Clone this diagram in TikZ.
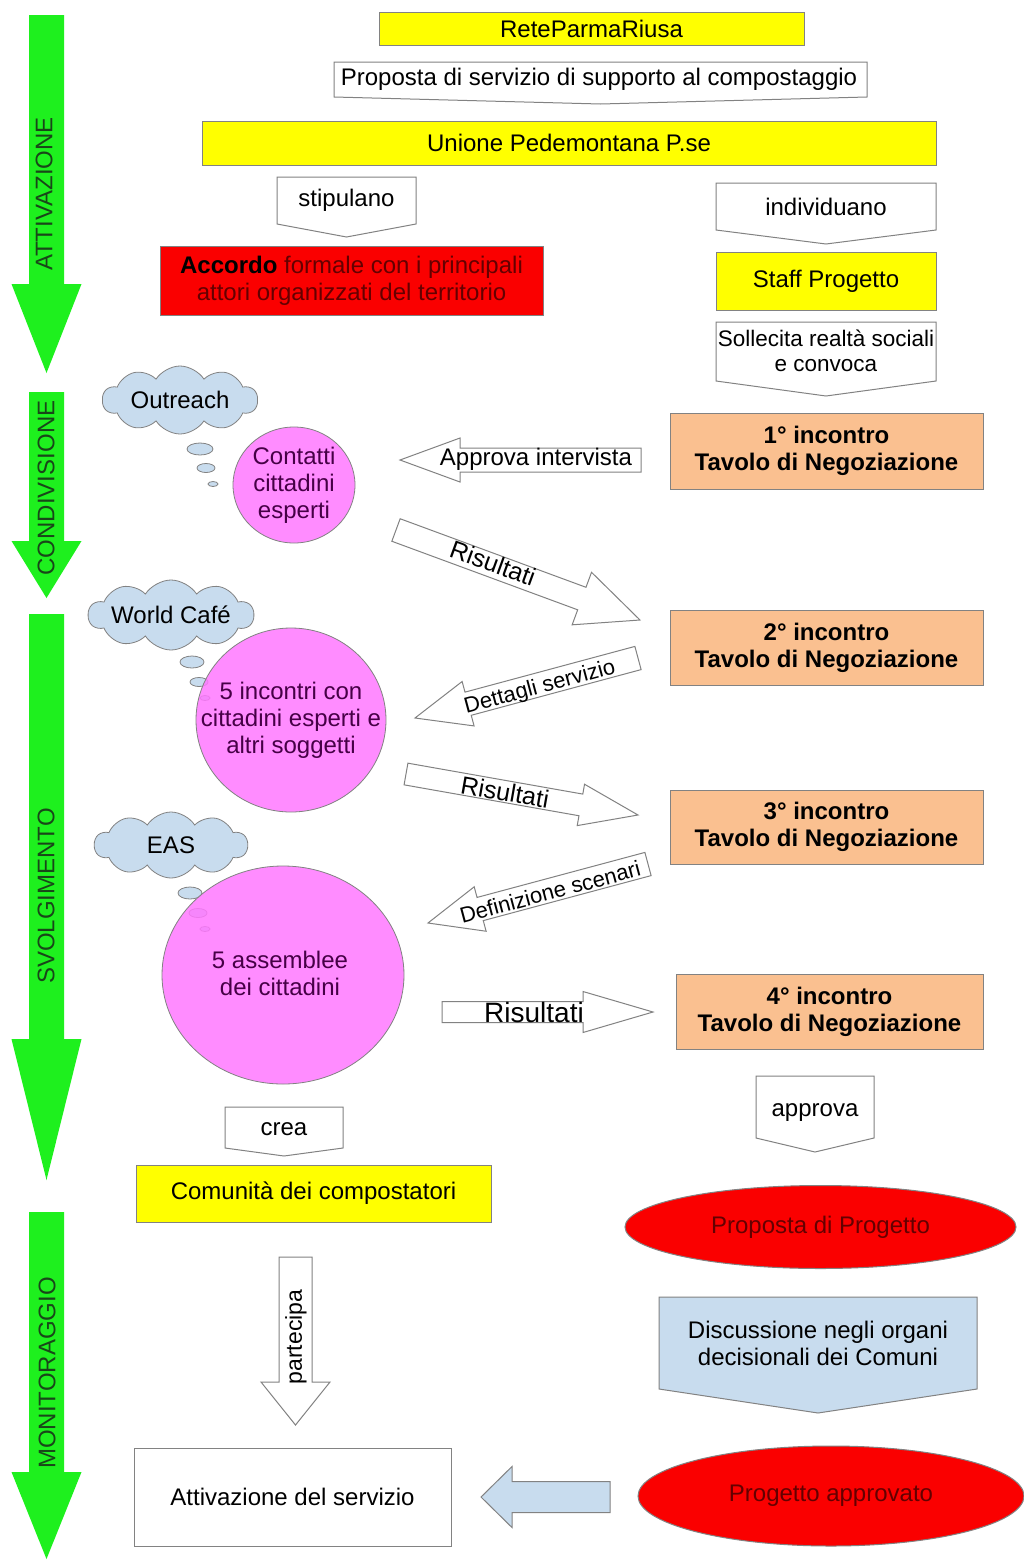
\documentclass[tikz,border=0pt]{standalone}
\usepackage{fontspec}
\setmainfont{Liberation Sans}
\usetikzlibrary{shapes.geometric,shapes.symbols,calc}

\definecolor{cgreen}{RGB}{30,240,30}
\definecolor{cgreentxt}{RGB}{25,70,25}
\definecolor{cyellow}{RGB}{255,255,0}
\definecolor{cpeach}{RGB}{250,192,144}
\definecolor{cred}{RGB}{250,0,0}
\definecolor{credtxt}{RGB}{100,0,0}
\definecolor{cmag}{RGB}{255,120,255}
\definecolor{cmagtxt}{RGB}{70,0,70}
\definecolor{cblue}{RGB}{200,220,238}
\definecolor{cborder}{RGB}{130,130,130}

% chevron box: xl, xr, ytop, yside, ytip, style
\newcommand{\chevshape}[6]{%
  \path[#6] (#1,#3) -- (#2,#3) -- (#2,#4) -- ({(#1+#2)/2},#5) -- (#1,#4) -- cycle;}

% block arrow: start coord, tip coord, shaft half width, head half width, head length, style
\newcommand{\blkarrow}[6]{%
  \coordinate (ba-h) at ($(#2)!#5!(#1)$);
  \path[#6] ($(#1)!#3!90:(#2)$) -- ($(ba-h)!#3!90:(#2)$) -- ($(ba-h)!#4!90:(#2)$) -- (#2)
     -- ($(ba-h)!#4!-90:(#2)$) -- ($(ba-h)!#3!-90:(#2)$) -- ($(#1)!#3!-90:(#2)$) -- cycle;}

\begin{document}
\begin{tikzpicture}[x=1pt,y=-1pt,
  every node/.style={font=\fontsize{24}{27}\selectfont, align=center, inner sep=0pt},
  rbox/.style={draw=cborder, line width=1pt, rectangle},
  ellbox/.style={ellipse, draw=cborder, line width=1pt},
  circbox/.style={ellipse, draw=cborder, line width=0.8pt, fill=cmag, fill opacity=0.85},
  circtxt/.style={text=cmagtxt},
  cloudbox/.style={cloud, cloud puffs=10, cloud puff arc=115, cloud ignores aspect, draw=cborder, line width=0.8pt, fill=cblue},
  bubble/.style={draw=cborder, line width=0.8pt, fill=cblue},
  whitearrow/.style={draw=cborder, line width=1pt, fill=white},
  greenarrow/.style={fill=cgreen},
  greentxt/.style={rotate=90, text=cgreentxt},
  chevwhite/.style={draw=cborder, line width=1pt, fill=white},
  tavolo/.style={rbox, fill=cpeach, font=\fontsize{24}{27}\selectfont\bfseries}
]
\fill[white] (0,0) rectangle (1023,1561);
\useasboundingbox (0,0) rectangle (1023,1561);

% ---------- green phase arrows ----------
\coordinate (g1-s) at (46.5,15);   \coordinate (g1-e) at (46.5,373);
\coordinate (g2-s) at (46.5,392);  \coordinate (g2-e) at (46.5,598);
\coordinate (g3-s) at (46.5,614);  \coordinate (g3-e) at (46.5,1180);
\coordinate (g4-s) at (46.5,1212); \coordinate (g4-e) at (46.5,1559);
\blkarrow{g1-s}{g1-e}{17.5pt}{35pt}{89pt}{greenarrow}
\blkarrow{g2-s}{g2-e}{17.5pt}{35pt}{57pt}{greenarrow}
\blkarrow{g3-s}{g3-e}{17.5pt}{35pt}{141pt}{greenarrow}
\blkarrow{g4-s}{g4-e}{17.5pt}{35pt}{87pt}{greenarrow}
\node[greentxt] (t-att) at (44,194) {ATTIVAZIONE};
\node[greentxt] (t-cond) at (46,488) {CONDIVISIONE};
\node[greentxt] (t-svol) at (46,896) {SVOLGIMENTO};
\node[greentxt] (t-mon) at (47,1373) {MONITORAGGIO};

% ---------- top ----------
\node[rbox, fill=cyellow, minimum width=425pt, minimum height=33pt] (rete) at (591.5,28.5) {ReteParmaRiusa};
\chevshape{334}{867}{62}{97}{104}{chevwhite}
\node (proposta) at (599,79) {Proposta di servizio di supporto al compostaggio};
\node[rbox, fill=cyellow, minimum width=734pt, minimum height=44pt] (unione) at (569,143) {Unione Pedemontana P.se};
\chevshape{277}{416}{177}{224}{237}{chevwhite}
\node (stip) at (346.5,200) {stipulano};
\chevshape{716}{936}{183}{230}{244}{chevwhite}
\node (indiv) at (826,207) {individuano};
\node[rbox, fill=cred, minimum width=383pt, minimum height=69pt, text=credtxt] (accordo) at (351.5,280.5)
  {\textcolor{black}{\bfseries Accordo} formale con i principali\\attori organizzati del territorio};
\node[rbox, fill=cyellow, minimum width=220pt, minimum height=58pt] (staff) at (826,281) {Staff Progetto};
\chevshape{716}{936}{322}{381}{396}{chevwhite}
\node[font=\fontsize{22.5}{25}\selectfont] (soll) at (826,351) {Sollecita realtà sociali\\e convoca};

% ---------- tavoli ----------
\node[tavolo, minimum width=313pt, minimum height=76pt] (inc1) at (826.5,451) {1° incontro\\Tavolo di Negoziazione};
\node[tavolo, minimum width=313pt, minimum height=75pt] (inc2) at (826.5,647.5) {2° incontro\\Tavolo di Negoziazione};
\node[tavolo, minimum width=313pt, minimum height=74pt] (inc3) at (826.5,827) {3° incontro\\Tavolo di Negoziazione};
\node[tavolo, minimum width=307pt, minimum height=75pt] (inc4) at (829.5,1011.5) {4° incontro\\Tavolo di Negoziazione};

% ---------- clouds and bubbles ----------
\node[cloudbox, minimum width=155pt, minimum height=68pt] (cl1) at (180,400) {Outreach};
\draw[bubble] (200,449) ellipse [x radius=13pt, y radius=6pt];
\draw[bubble] (206,468) ellipse [x radius=9pt, y radius=4.5pt];
\draw[bubble] (213,484) ellipse [x radius=5pt, y radius=2.5pt];
\node[cloudbox, minimum width=153pt, minimum height=70pt] (cl2) at (171,615) {World Café};
\draw[bubble] (192,662) ellipse [x radius=12pt, y radius=6pt];
\draw[bubble] (199,682) ellipse [x radius=9pt, y radius=4.5pt];
\draw[bubble] (205,698) ellipse [x radius=5pt, y radius=2.5pt];
\node[cloudbox, minimum width=153pt, minimum height=66pt] (cl3) at (171,845) {EAS};
\draw[bubble] (190,893) ellipse [x radius=12pt, y radius=6pt];
\draw[bubble] (198,913) ellipse [x radius=9pt, y radius=4.5pt];
\draw[bubble] (205,929) ellipse [x radius=5pt, y radius=2.5pt];

% ---------- circles ----------
\node[circbox, minimum width=122pt, minimum height=116pt] (c1) at (294,485) {};
\node[circtxt] (c1t) at (294,485) {Contatti\\cittadini\\esperti};
\node[circbox, minimum width=190pt, minimum height=184pt] (c2) at (291,720) {};
\node[circtxt] (c2t) at (291,720) {5 incontri con\\cittadini esperti e\\altri soggetti};
\node[circbox, minimum width=242pt, minimum height=218pt] (c3) at (283,975) {};
\node[circtxt] (c3t) at (280,973) {5 assemblee\\dei cittadini};

% ---------- block arrows between circles and tavoli ----------
\coordinate (ai-s) at (641,460); \coordinate (ai-e) at (400,460);
\blkarrow{ai-s}{ai-e}{12pt}{22pt}{60pt}{whitearrow}
\node (t-ai) at (536,459) {Approva intervista};

\coordinate (r1-s) at (396,530); \coordinate (r1-e) at (640,620);
\blkarrow{r1-s}{r1-e}{12pt}{28pt}{62pt}{whitearrow}
\node[rotate=-20, font=\fontsize{25}{27}\selectfont] (t-r1) at (493,563) {Risultati};

\coordinate (d-s) at (638,658); \coordinate (d-e) at (415,718);
\blkarrow{d-s}{d-e}{12pt}{23pt}{55pt}{whitearrow}
\node[rotate=15, font=\fontsize{22}{27}\selectfont] (t-d) at (540,688) {Dettagli servizio};

\coordinate (r2-s) at (406,774); \coordinate (r2-e) at (638,815);
\blkarrow{r2-s}{r2-e}{11pt}{21pt}{58pt}{whitearrow}
\node[rotate=-10, font=\fontsize{25}{27}\selectfont] (t-r2) at (505,792) {Risultati};

\coordinate (ds-s) at (648,864); \coordinate (ds-e) at (428,923);
\blkarrow{ds-s}{ds-e}{12pt}{23pt}{54pt}{whitearrow}
\node[rotate=15, font=\fontsize{22}{27}\selectfont] (t-ds) at (550,892) {Definizione scenari};

\coordinate (r3-s) at (442,1012); \coordinate (r3-e) at (653,1012);
\blkarrow{r3-s}{r3-e}{10.5pt}{20.5pt}{70pt}{whitearrow}
\node[font=\fontsize{28}{30}\selectfont] (t-r3) at (534,1012) {Risultati};

% ---------- bottom ----------
\chevshape{756}{874}{1076}{1138}{1152}{chevwhite}
\node (approva) at (815,1113) {approva};
\chevshape{225}{343}{1107}{1148}{1156}{chevwhite}
\node (crea) at (284,1129) {crea};
\node[rbox, fill=cyellow, minimum width=355pt, minimum height=57pt] (comun) at (313.5,1193.5) {Comunità dei compostatori};
\node[ellbox, fill=cred, text=credtxt, minimum width=391pt, minimum height=83pt] (propP) at (820.5,1227) {Proposta di Progetto};

\coordinate (pa-s) at (295.5,1257); \coordinate (pa-e) at (295.5,1425);
\blkarrow{pa-s}{pa-e}{16.5pt}{34.5pt}{43pt}{whitearrow}
\node[rotate=90, font=\fontsize{23}{27}\selectfont] (t-pa) at (296,1337) {partecipa};

\chevshape{659}{977}{1297}{1389}{1413}{draw=cborder, line width=1pt, fill=cblue}
\node (discuss) at (818,1343) {Discussione negli organi\\decisionali dei Comuni};

\node[ellbox, fill=cred, text=credtxt, minimum width=386pt, minimum height=100pt] (approv) at (831,1496) {Progetto approvato};
\node[rbox, fill=white, minimum width=317pt, minimum height=98pt] (attiv) at (292.5,1497) {Attivazione del servizio};

\coordinate (lb-s) at (610,1497); \coordinate (lb-e) at (481,1497);
\blkarrow{lb-s}{lb-e}{15.5pt}{30.5pt}{31pt}{draw=cborder, line width=1pt, fill=cblue}
\end{tikzpicture}
\end{document}
